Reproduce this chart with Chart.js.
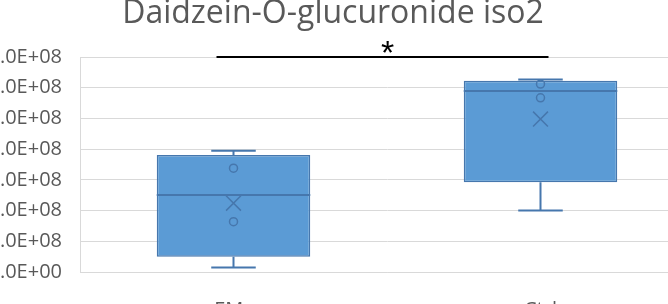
<!DOCTYPE html>
<html>
<head>
<meta charset="utf-8">
<script src="https://cdn.jsdelivr.net/npm/chart.js@4.4.0/dist/chart.umd.min.js"></script>
<style>
  html, body { margin: 0; padding: 0; background: #fff; overflow: hidden; width: 668px; height: 304px; }
  #chart { position: absolute; left: -40px; top: 0; }
</style>
</head>
<body>
<canvas id="chart" width="746" height="322"></canvas>
<script>
// box plot values
const categories = ["EMs", "Ctrl"];
const whiskerMin = [0.15e8, 2.0e8];
const q1 = [0.5e8, 2.92e8];
const median = [2.51e8, 5.89e8];
const q3 = [3.81e8, 6.23e8];
const whiskerMax = [3.95e8, 6.27e8];
const mean = [2.24e8, 4.98e8];
const innerPoints = [[3.38e8, 1.64e8], [6.12e8, 5.67e8]];
const yTicks = [0, 1e8, 2e8, 3e8, 4e8, 5e8, 6e8, 7e8];

const titleText = "Daidzein-O-glucuronide iso2";
const boxFill = "#5B9BD5";
const boxLine = "#4677AD";
const textGrey = "#595959";
const font = "'Open Sans', sans-serif";

function sci(v) {
    const [m, e] = v.toExponential(1).split("e");
    const n = Math.abs(parseInt(e, 10));
    return m + "E" + (e[0] === "-" ? "-" : "+") + String(n).padStart(2, "0");
}

// whiskers go behind the box, median / title / significance on top
const boxExtras = {
    id: "boxExtras",
    beforeDatasetsDraw(chart) {
        const ctx = chart.ctx;
        const y = chart.scales.y;
        const bars = chart.getDatasetMeta(0).data;
        ctx.save();
        ctx.strokeStyle = boxLine;
        ctx.lineWidth = 2;
        bars.forEach((bar, i) => {
            const cap = bar.width * 0.145;
            const yMin = y.getPixelForValue(whiskerMin[i]);
            const yMax = y.getPixelForValue(whiskerMax[i]);
            ctx.beginPath();
            ctx.moveTo(bar.x, y.getPixelForValue(q3[i]));
            ctx.lineTo(bar.x, yMax);
            ctx.moveTo(bar.x - cap, yMax);
            ctx.lineTo(bar.x + cap, yMax);
            ctx.moveTo(bar.x, y.getPixelForValue(q1[i]));
            ctx.lineTo(bar.x, yMin);
            ctx.moveTo(bar.x - cap, yMin);
            ctx.lineTo(bar.x + cap, yMin);
            ctx.stroke();
        });
        ctx.restore();
    },
    afterDatasetsDraw(chart) {
        const ctx = chart.ctx;
        const x = chart.scales.x;
        const y = chart.scales.y;
        const bars = chart.getDatasetMeta(0).data;
        ctx.save();
        ctx.strokeStyle = boxLine;
        ctx.lineWidth = 2;
        bars.forEach((bar, i) => {
            const ym = y.getPixelForValue(median[i]);
            ctx.beginPath();
            ctx.moveTo(bar.x - bar.width / 2, ym);
            ctx.lineTo(bar.x + bar.width / 2, ym);
            ctx.stroke();
        });

        // significance bar
        const top = y.getPixelForValue(7e8);
        const x0 = x.getPixelForValue(0) - 17;
        const x1 = x.getPixelForValue(1) + 8;
        ctx.strokeStyle = "#000";
        ctx.lineWidth = 2;
        ctx.beginPath();
        ctx.moveTo(x0, top);
        ctx.lineTo(x1, top);
        ctx.stroke();
        ctx.fillStyle = "#000";
        ctx.font = "34px 'Liberation Sans', sans-serif";
        ctx.textAlign = "center";
        ctx.textBaseline = "top";
        ctx.fillText("*", (x0 + x1) / 2 + 5, top - 19);

        // title
        ctx.fillStyle = textGrey;
        ctx.font = "32px " + font;
        ctx.textBaseline = "alphabetic";
        ctx.fillText(titleText, chart.width / 2, 23);
        ctx.restore();
    }
};

new Chart(document.getElementById("chart"), {
    data: {
        labels: categories,
        datasets: [
            {
                type: "bar",
                data: categories.map((c, i) => [q1[i], q3[i]]),
                backgroundColor: boxFill,
                borderColor: boxLine,
                borderWidth: 1.5,
                borderSkipped: false,
                barPercentage: 0.5,
                categoryPercentage: 1,
                order: 2
            },
            {
                type: "line",
                data: categories.flatMap((c, i) => innerPoints[i].map(v => ({x: c, y: v}))),
                showLine: false,
                pointStyle: "circle",
                pointRadius: 4,
                pointBorderWidth: 1.5,
                pointBorderColor: boxLine,
                pointBackgroundColor: "rgba(0,0,0,0)",
                order: 1
            },
            {
                type: "line",
                data: categories.map((c, i) => ({x: c, y: mean[i]})),
                showLine: false,
                pointStyle: "crossRot",
                pointRadius: 10.5,
                pointBorderWidth: 1.5,
                pointBorderColor: boxLine,
                order: 1
            }
        ]
    },
    options: {
        responsive: false,
        animation: false,
        layout: { padding: { top: 57, right: 12, bottom: 0, left: 0 } },
        plugins: {
            legend: { display: false },
            tooltip: { enabled: false },
            title: { display: false }
        },
        scales: {
            x: {
                type: "category",
                grid: { display: false, drawTicks: false },
                border: { display: true, color: "#D9D9D9" },
                ticks: { color: textGrey, font: { family: font, size: 20 }, padding: 26 },
                afterFit(scale) { scale.height = 50; }
            },
            y: {
                min: 0,
                max: 7e8,
                afterBuildTicks(scale) { scale.ticks = yTicks.map(v => ({value: v})); },
                grid: { color: "#D9D9D9", lineWidth: 1, drawTicks: false },
                border: { display: true, color: "#D9D9D9" },
                ticks: {
                    color: textGrey,
                    font: { family: font, size: 20 },
                    padding: 18,
                    callback: v => sci(v)
                },
                afterFit(scale) { scale.width = 120; }
            }
        }
    },
    plugins: [boxExtras]
});
</script>
</body>
</html>
